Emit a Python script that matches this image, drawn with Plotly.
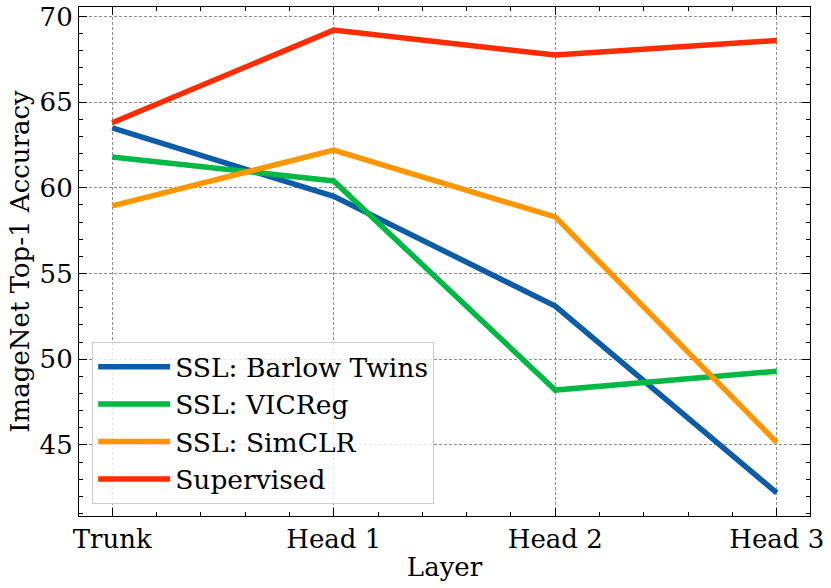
import plotly.graph_objects as go

layers = ["Trunk", "Head 1", "Head 2", "Head 3"]
x_pos = [0, 1, 2, 3]
barlow = [63.5, 59.5, 53.1, 42.2]
vicreg = [61.8, 60.4, 48.2, 49.3]
simclr = [58.95, 62.2, 58.3, 45.15]
supervised = [63.8, 69.2, 67.75, 68.6]

series = [
    ("SSL: Barlow Twins", barlow, "#0C5DA5"),
    ("SSL: VICReg", vicreg, "#00B945"),
    ("SSL: SimCLR", simclr, "#FF9500"),
    ("Supervised", supervised, "#FF2C00"),
]

fig = go.Figure()
for name, vals, col in series:
    fig.add_trace(go.Scatter(x=x_pos, y=vals, mode="lines", name=name,
                             line=dict(color=col, width=5.5)))

font = dict(family="DejaVu Serif", size=26, color="black")
legend_font = dict(family="DejaVu Serif", size=26.5, color="black")
axis_common = dict(
    showline=True, linecolor="black", linewidth=1.2, mirror="ticks",
    ticks="inside", ticklen=8, tickwidth=1.2, tickcolor="black",
    showgrid=True, gridcolor="#8c8c8c", gridwidth=0.7, griddash="3px,2px",
    zeroline=False, tickfont=font, automargin=False,
)
fig.update_xaxes(
    range=[-0.15, 3.15], tickmode="array", tickvals=x_pos, ticktext=layers,
    title=dict(text="Layer", font=font, standoff=4),
    minor=dict(tickmode="linear", tick0=0, dtick=0.2, ticks="inside",
               ticklen=4, tickwidth=1, tickcolor="black", showgrid=False),
    **axis_common,
)
fig.update_yaxes(
    range=[40.85, 70.55], tickmode="linear", tick0=45, dtick=5,
    title=dict(text="ImageNet Top-1 Accuracy", font=font, standoff=2),
    minor=dict(tickmode="linear", tick0=40, dtick=1, ticks="inside",
               ticklen=4, tickwidth=1, tickcolor="black", showgrid=False),
    **axis_common,
)
fig.update_layout(
    width=831, height=588,
    margin=dict(l=79, r=21, t=7, b=72, autoexpand=False),
    plot_bgcolor="white", paper_bgcolor="white",
    font=font,
    legend=dict(x=0.018, y=0.342, xanchor="left", yanchor="top",
                bgcolor="rgba(255,255,255,0.8)", bordercolor="#cccccc",
                borderwidth=1, font=legend_font, itemwidth=72),
    showlegend=True,
)
fig.write_html("out.html", config={"displayModeBar": False},
               post_script="document.body.style.margin='0';document.body.style.overflow='hidden';")
